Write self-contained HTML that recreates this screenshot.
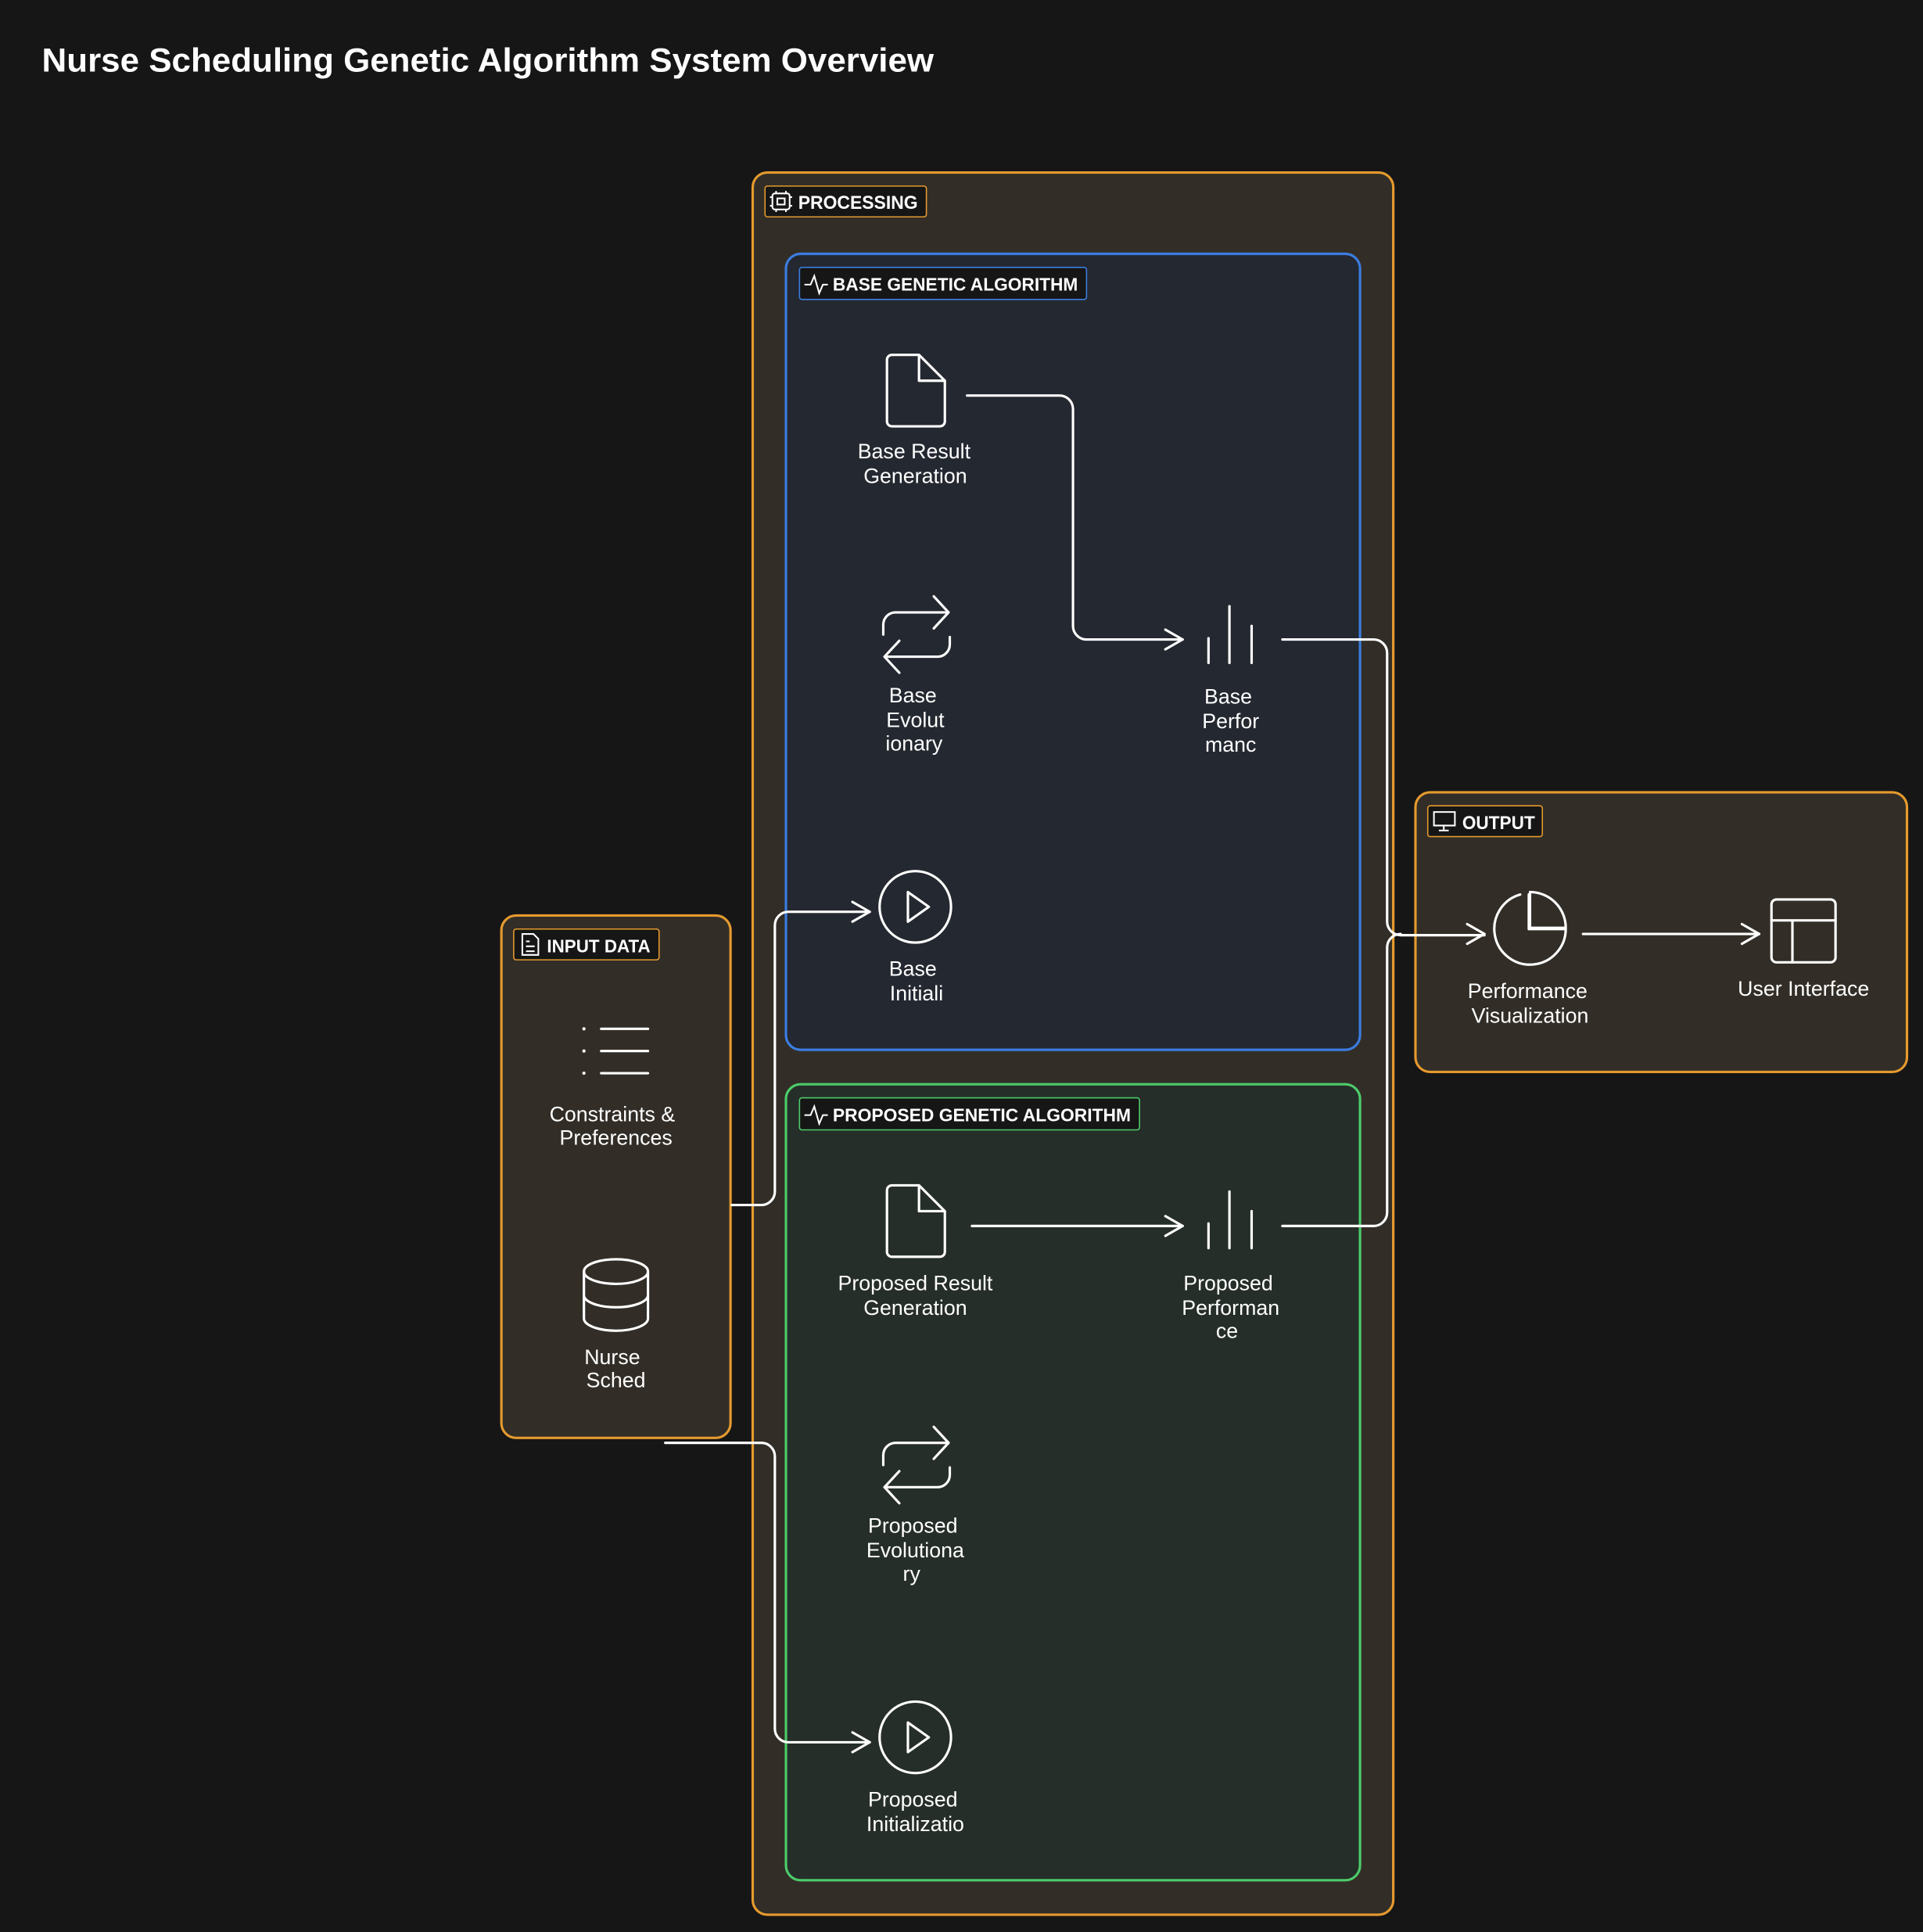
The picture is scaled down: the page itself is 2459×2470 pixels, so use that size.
<!DOCTYPE html>
<html><head><meta charset="utf-8"><style>
html,body{margin:0;padding:0;background:#161616;}
svg{display:block;}
text{font-family:"Liberation Sans",sans-serif;fill:#fff;}
</style></head><body>
<svg width="2459" height="2470" viewBox="0 0 1561 1568" preserveAspectRatio="none" xmlns="http://www.w3.org/2000/svg">
<rect width="1561" height="1568" fill="#161616"/>
<text x="34" y="58" font-size="27" font-weight="600" textLength="724" lengthAdjust="spacingAndGlyphs">Nurse Scheduling Genetic Algorithm System Overview</text>

<!-- processing -->
<rect x="611" y="140" width="520" height="1414" rx="12" fill="#322e27" stroke="#e59a2e" stroke-width="2"/>
<rect x="621" y="151" width="131" height="25" rx="2" fill="#161616" stroke="#e59a2e" stroke-width="1"/>
<g fill="none" stroke="#fff" stroke-width="1.3"><rect x="627" y="157" width="14" height="13" rx="2"/><rect x="631" y="161" width="6" height="5"/><path d="M630 155v2M638 155v2M630 170v2M638 170v2M625 160h2M625 167h2M641 160h2M641 167h2"/></g>
<text x="648" y="169.5" font-size="15" font-weight="600" textLength="97" lengthAdjust="spacingAndGlyphs">PROCESSING</text>

<!-- base GA -->
<rect x="638" y="206" width="466" height="646" rx="12" fill="#242830" stroke="#3b7de0" stroke-width="2"/>
<rect x="649" y="217" width="233" height="26" rx="2" fill="#161616" stroke="#3b7de0" stroke-width="1"/>
<path d="M653 231h5l3-7 4 14 3-7h4" fill="none" stroke="#fff" stroke-width="1.3"/>
<text x="676" y="236" font-size="14.5" font-weight="600" textLength="199" lengthAdjust="spacingAndGlyphs">BASE GENETIC ALGORITHM</text>

<!-- proposed GA -->
<rect x="638" y="880" width="466" height="646" rx="12" fill="#262e29" stroke="#4ccc6a" stroke-width="2"/>
<rect x="649" y="891" width="276" height="26" rx="2" fill="#161616" stroke="#4ccc6a" stroke-width="1"/>
<path d="M653 905h5l3-7 4 14 3-7h4" fill="none" stroke="#fff" stroke-width="1.3"/>
<text x="676" y="910" font-size="14.5" font-weight="600" textLength="242" lengthAdjust="spacingAndGlyphs">PROPOSED GENETIC ALGORITHM</text>

<!-- input -->
<rect x="407" y="743" width="186" height="424" rx="12" fill="#322e27" stroke="#e59a2e" stroke-width="2"/>
<rect x="417" y="754" width="118" height="25" rx="2" fill="#161616" stroke="#e59a2e" stroke-width="1"/>
<path d="M424 758h9l4 4v13h-13z M427 764h3 M427 768h7 M427 772h7" fill="none" stroke="#fff" stroke-width="1.3"/>
<text x="444" y="773" font-size="14.5" font-weight="600" textLength="84" lengthAdjust="spacingAndGlyphs">INPUT DATA</text>

<!-- output -->
<rect x="1149" y="643" width="399" height="227" rx="12" fill="#322e27" stroke="#e59a2e" stroke-width="2"/>
<rect x="1159" y="654" width="93" height="25" rx="2" fill="#161616" stroke="#e59a2e" stroke-width="1"/>
<path d="M1164 659h17v11h-17z M1172 670v4 M1168 674h8" fill="none" stroke="#fff" stroke-width="1.3"/>
<text x="1187" y="673" font-size="15" font-weight="600" textLength="59" lengthAdjust="spacingAndGlyphs">OUTPUT</text>

<g fill="none" stroke="#fff" stroke-width="2" stroke-linecap="round" stroke-linejoin="round">
<path d="M724 288h22l21 21v33a4 4 0 0 1-4 4h-39a4 4 0 0 1-4-4v-50a4 4 0 0 1 4-4z M746 288v21h21"/>
<path d="M724 962h22l21 21v33a4 4 0 0 1-4 4h-39a4 4 0 0 1-4-4v-50a4 4 0 0 1 4-4z M746 962v21h21"/>
<path d="M717 515v-8a10 10 0 0 1 10-10h43 M758 484l12 13-12 13 M771 517v6a10 10 0 0 1-10 10h-43 M730 520l-12 13 12 13"/>
<path d="M717 1189v-8a10 10 0 0 1 10-10h43 M758 1158l12 13-12 13 M771 1191v6a10 10 0 0 1-10 10h-43 M730 1194l-12 13 12 13"/>
<path d="M981 518v20 M998 492v46 M1016 508v30"/>
<path d="M981 993v20 M998 967v46 M1016 983v30"/>
<circle cx="743" cy="736" r="29"/><path d="M737 724l17 12-17 12z"/>
<circle cx="743" cy="1410" r="29"/><path d="M737 1398l17 12-17 12z"/>
<path d="M488 835h38 M488 853h38 M488 871h38"/>
<ellipse cx="500" cy="1032" rx="26" ry="10"/><path d="M474 1032v38a26 10 0 0 0 52 0v-38 M474 1051a26 10 0 0 0 52 0"/>
<path d="M1234 726a29 29 0 1 0 37 28h-30v-28"/><path d="M1242 724a29 29 0 0 1 29 29h-29z"/>
<rect x="1438" y="730" width="52" height="51" rx="4"/><path d="M1438 747h52 M1455 747v34"/>

<path d="M785 321h75a11 11 0 0 1 11 11v176a11 11 0 0 0 11 11h78"/>
<path d="M946 511l14 8-14 8"/>
<path d="M1041 519h74a11 11 0 0 1 11 11v218a11 11 0 0 0 11 11h68"/>
<path d="M1041 995h74a11 11 0 0 0 11-11v-215a11 11 0 0 1 11-11"/>
<path d="M1191 750l14 8-14 8"/>
<path d="M789 995h171"/><path d="M946 987l14 8-14 8"/>
<path d="M1285 758h143"/><path d="M1414 750l14 8-14 8"/>
<path d="M594 978h24a11 11 0 0 0 11-11v-216a11 11 0 0 1 11-11h66"/><path d="M692 732l14 8-14 8"/>
<path d="M540 1171h78a11 11 0 0 1 11 11v221a11 11 0 0 0 11 11h66"/><path d="M692 1406l14 8-14 8"/>
</g>
<circle cx="474" cy="835" r="1.3" fill="#fff"/><circle cx="474" cy="853" r="1.3" fill="#fff"/><circle cx="474" cy="871" r="1.3" fill="#fff"/>

<g font-size="17" text-anchor="middle">
<text x="742" y="372">Base Result</text><text x="743" y="392">Generation</text>
<text x="741" y="570">Base</text><text x="743" y="590">Evolut</text><text x="742" y="609">ionary</text>
<text x="997" y="571">Base</text><text x="999" y="591">Perfor</text><text x="999" y="610">manc</text>
<text x="741" y="792">Base</text><text x="744" y="812">Initiali</text>
<text x="497" y="910">Constraints &amp;</text><text x="500" y="929">Preferences</text>
<text x="497" y="1107">Nurse</text><text x="500" y="1126">Sched</text>
<text x="743" y="1047">Proposed Result</text><text x="743" y="1067">Generation</text>
<text x="997" y="1047">Proposed</text><text x="999" y="1067">Performan</text><text x="996" y="1086">ce</text>
<text x="741" y="1244">Proposed</text><text x="743" y="1264">Evolutiona</text><text x="740" y="1283">ry</text>
<text x="741" y="1466">Proposed</text><text x="743" y="1486">Initializatio</text>
<text x="1240" y="810">Performance</text><text x="1242" y="830">Visualization</text>
<text x="1464" y="808">User Interface</text>
</g>
</svg>
</body></html>
